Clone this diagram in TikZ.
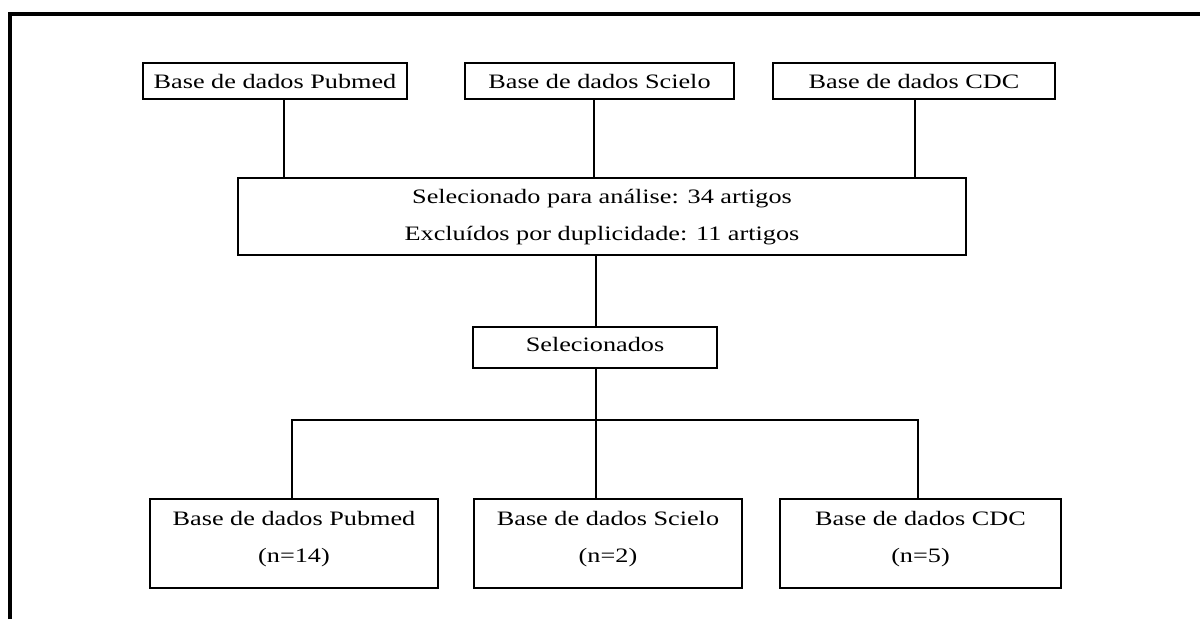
\documentclass[tikz,border=0pt]{standalone}
\usepackage{fontspec}
\setmainfont{Liberation Serif}
\newcommand{\stx}[1]{\scalebox{1.28}[1]{#1}}
\begin{document}
\begin{tikzpicture}[x=1pt,y=-1pt,
  box/.style={draw,line width=2pt,inner sep=0pt,anchor=center},
  lbl/.style={inner sep=0pt,anchor=base,font=\fontsize{20.5}{20.5}\selectfont},
  conn/.style={line width=2pt}]
\useasboundingbox (0,0) rectangle (1200,619);
% frame (top and left edges only)
\draw[line width=4pt] (10,619) -- (10,13.5) -- (1200,13.5);

% top row
\node[box,minimum width=264,minimum height=36] (t1) at (275,81) {};
\node[box,minimum width=269,minimum height=36] (t2) at (599.5,81) {};
\node[box,minimum width=282,minimum height=36] (t3) at (914,81) {};
\node[lbl] (t1l) at (275,88) {\stx{Base de dados Pubmed}};
\node[lbl] (t2l) at (599.5,88) {\stx{Base de dados Scielo}};
\node[lbl] (t3l) at (914,88) {\stx{Base de dados CDC}};

% big box
\node[box,minimum width=728,minimum height=77] (big) at (602,216.5) {};
\node[lbl] (bigl1) at (602,203) {\stx{Selecionado para análise: 34 artigos}};
\node[lbl] (bigl2) at (602,240) {\stx{Excluídos por duplicidade: 11 artigos}};

% selecionados
\node[box,minimum width=244,minimum height=41] (sel) at (595,347.5) {};
\node[lbl] (sell) at (595,351) {\stx{Selecionados}};

% bottom row
\node[box,minimum width=288,minimum height=89] (b1) at (294,543.5) {};
\node[box,minimum width=268,minimum height=89] (b2) at (608,543.5) {};
\node[box,minimum width=281,minimum height=89] (b3) at (920.5,543.5) {};
\node[lbl] (b1l1) at (294,525) {\stx{Base de dados Pubmed}};
\node[lbl] (b1l2) at (294,562) {\stx{(n=14)}};
\node[lbl] (b2l1) at (608,525) {\stx{Base de dados Scielo}};
\node[lbl] (b2l2) at (608,562) {\stx{(n=2)}};
\node[lbl] (b3l1) at (920.5,525) {\stx{Base de dados CDC}};
\node[lbl] (b3l2) at (920.5,562) {\stx{(n=5)}};

% connector x positions
\coordinate (x1) at (284,0);
\coordinate (x2) at (594,0);
\coordinate (x3) at (915,0);
\coordinate (xm) at (596,0);
\coordinate (hl) at (292,420);
\coordinate (hub) at (596,420);
\coordinate (hr) at (918,420);

\draw[conn] (x1 |- t1.south) -- (x1 |- big.north);
\draw[conn] (x2 |- t2.south) -- (x2 |- big.north);
\draw[conn] (x3 |- t3.south) -- (x3 |- big.north);
\draw[conn] (xm |- big.south) -- (xm |- sel.north);
\draw[conn] (xm |- sel.south) -- (hub);
\draw[conn] (hl |- b1.north) -- (hl) -- (hr) -- (hr |- b3.north);
\draw[conn] (hub) -- (hub |- b2.north);
\end{tikzpicture}
\end{document}
